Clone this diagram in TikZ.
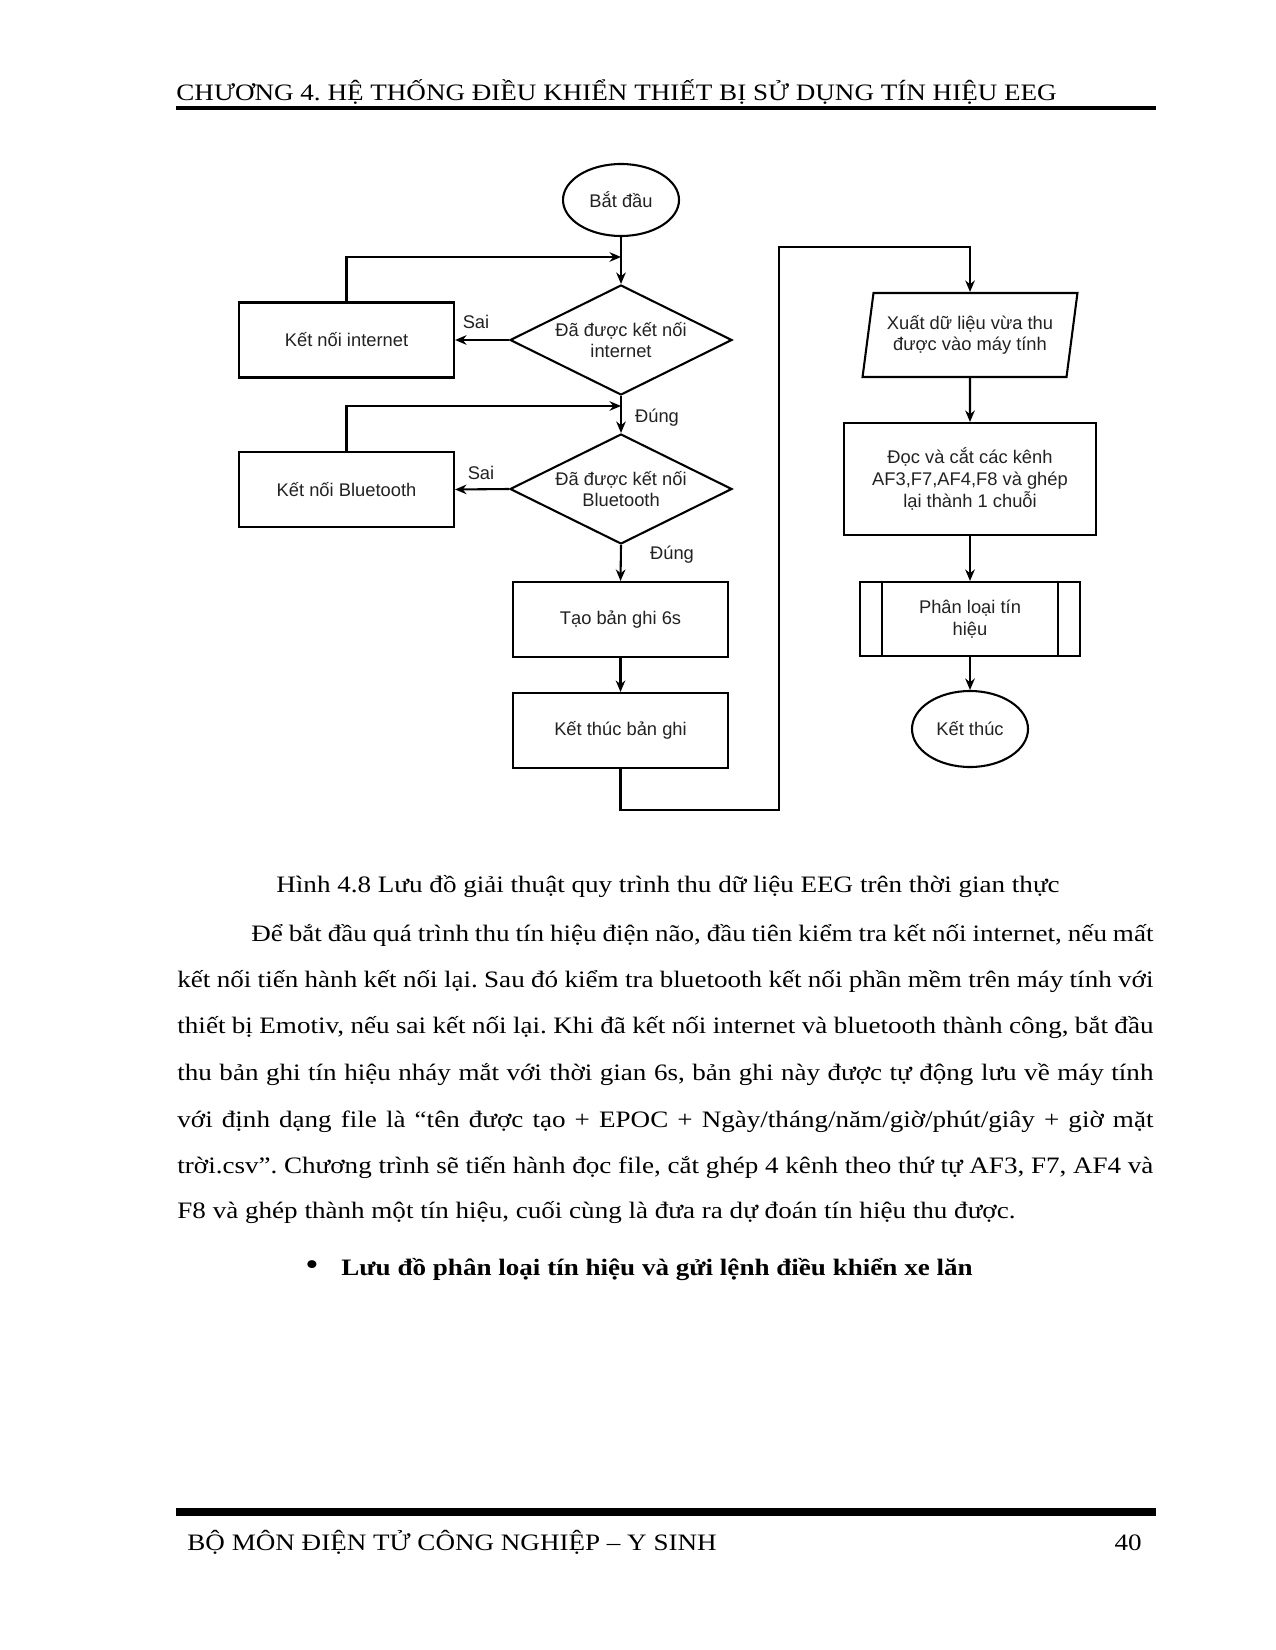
\documentclass[tikz,border=0pt]{standalone}
\usepackage{fontspec}
\setmainfont{Liberation Serif}[FakeStretch=1.15]
\newfontfamily\dsans{Liberation Sans}
\usetikzlibrary{shapes.geometric,arrows.meta}
\newlength\pxu
\setlength\pxu{0.48pt}
\definecolor{dtext}{HTML}{222222}
\frenchspacing
\tikzset{
  flow/.style={draw=black, line width=1pt, font=\dsans\fontsize{8.8pt}{10.4pt}\selectfont, text=dtext, align=center, inner sep=0pt},
  procbox/.style={flow, rectangle, minimum width=215\pxu, minimum height=75\pxu},
  decis/.style={flow, diamond, aspect=2, minimum width=222\pxu, minimum height=110\pxu},
  term/.style={flow, ellipse, minimum width=116\pxu, minimum height=72\pxu},
  io/.style={flow, trapezium, trapezium left angle=76.6, trapezium right angle=103.4, trapezium stretches=true, minimum width=216\pxu, minimum height=84\pxu},
  arr/.style={line width=1pt, -{Stealth[length=5.5pt,width=4.6pt]}},
  lbl/.style={font=\dsans\fontsize{8.8pt}{10pt}\selectfont, text=dtext, inner sep=0pt},
  body/.style={font=\fontsize{11.3pt}{22.3pt}\selectfont\frenchspacing, inner sep=0pt, anchor=base west},
}
\begin{document}
\begin{tikzpicture}[x=0.48pt,y=-0.48pt]
\useasboundingbox[fill=white] (0,0) rectangle (1275,1650);

% header
\node[body] (hdr) at (176,101) {CHƯƠNG 4. HỆ THỐNG ĐIỀU KHIỂN THIẾT BỊ SỬ DỤNG TÍN HIỆU EEG};
\coordinate (hl1) at (176,108);
\coordinate (hl2) at (1156,108);
\draw[line width=1.9pt] (hl1) -- (hl2);

% flowchart left column
\node[term] (start) at (621,200) {Bắt đầu};
\coordinate (j1) at (621,257);
\node[decis] (d1) at (621,340) {Đã được kết nối\\internet};
\node[procbox] (k1) at (346.5,340) {Kết nối internet};
\coordinate (j2) at (621,406);
\node[decis] (d2) at (621,489) {Đã được kết nối\\Bluetooth};
\node[procbox] (k2) at (346.5,489.5) {Kết nối Bluetooth};
\node[procbox] (tao) at (620.5,619.5) {Tạo bản ghi 6s};
\node[procbox] (ktb) at (620.5,730.5) {Kết thúc bản ghi};

% right column
\node[io] (xuat) at (970,335) {Xuất dữ liệu vừa thu\\được vào máy tính};
\node[procbox, minimum width=252\pxu, minimum height=112\pxu] (doc) at (970,479) {Đọc và cắt các kênh\\AF3,F7,AF4,F8 và ghép\\lại thành 1 chuỗi};
\node[procbox, minimum width=220\pxu, minimum height=74\pxu] (pl) at (970,619) {Phân loại tín\\hiệu};
\draw[line width=1pt] ([xshift=23\pxu]pl.north west) -- ([xshift=23\pxu]pl.south west);
\draw[line width=1pt] ([xshift=-23\pxu]pl.north east) -- ([xshift=-23\pxu]pl.south east);
\node[term, minimum height=76\pxu] (fin) at (970,729) {Kết thúc};

% connectors
\draw[arr] (start) -- (d1);
\draw[arr] (k1.north) |- (j1);
\draw[arr] (d1.west) -- (k1.east);
\draw[arr] (d1.south) -- (d2.north);
\draw[arr] (k2.north) |- (j2);
\draw[arr] (d2.west) -- (k2.east);
\draw[arr] (d2.south) -- (tao.north);
\draw[arr] (tao.south) -- (ktb.north);
\coordinate (c2) at (779,810);
\coordinate (c3) at (779,247);
\draw[arr] (ktb.south) |- (c2) -- (c3) -| (xuat.north);
\draw[arr] (xuat) -- (doc);
\draw[arr] (doc) -- (pl);
\draw[arr] (pl) -- (fin);

\node[lbl] (sai1) at (476,322) {Sai};
\node[lbl] (sai2) at (481,473) {Sai};
\node[lbl] (dung1) at (657,418) {Đúng};
\node[lbl] (dung2) at (672,555) {Đúng};

% caption and body text
\node[body] (cap) at (276,892) {Hình 4.8 Lưu đồ giải thuật quy trình thu dữ liệu EEG trên thời gian thực};
\node[body] (p1) at (251,941) {\makebox[902\pxu][s]{Để bắt đầu quá trình thu tín hiệu điện não, đầu tiên kiểm tra kết nối internet, nếu mất}};
\node[body] (p2) at (177,987) {\makebox[976\pxu][s]{kết nối tiến hành kết nối lại. Sau đó kiểm tra bluetooth kết nối phần mềm trên máy tính với}};
\node[body] (p3) at (177,1033) {\makebox[976\pxu][s]{thiết bị Emotiv, nếu sai kết nối lại. Khi đã kết nối internet và bluetooth thành công, bắt đầu}};
\node[body] (p4) at (177,1080) {\makebox[976\pxu][s]{thu bản ghi tín hiệu nháy mắt với thời gian 6s, bản ghi này được tự động lưu về máy tính}};
\node[body] (p5) at (177,1127) {\makebox[976\pxu][s]{với định dạng file là “tên được tạo + EPOC + Ngày/tháng/năm/giờ/phút/giây + giờ mặt}};
\node[body] (p6) at (177,1173) {\makebox[976\pxu][s]{trời.csv”. Chương trình sẽ tiến hành đọc file, cắt ghép 4 kênh theo thứ tự AF3, F7, AF4 và}};
\node[body] (p7) at (177,1218) {F8 và ghép thành một tín hiệu, cuối cùng là đưa ra dự đoán tín hiệu thu được.};

\node[body, anchor=base] (bul) at (312,1275) {\scalebox{1.4}{\textbullet}};
\node[body] (bt) at (341,1275) {\bfseries Lưu đồ phân loại tín hiệu và gửi lệnh điều khiển xe lăn};

% footer
\coordinate (fl1) at (176,1512);
\coordinate (fl2) at (1156,1512);
\draw[line width=4.3pt] (fl1) -- (fl2);
\node[body] (ftr) at (187,1550) {BỘ MÔN ĐIỆN TỬ CÔNG NGHIỆP – Y SINH};
\node[body, anchor=base east] (pg) at (1142,1550) {40};
\end{tikzpicture}
\end{document}
